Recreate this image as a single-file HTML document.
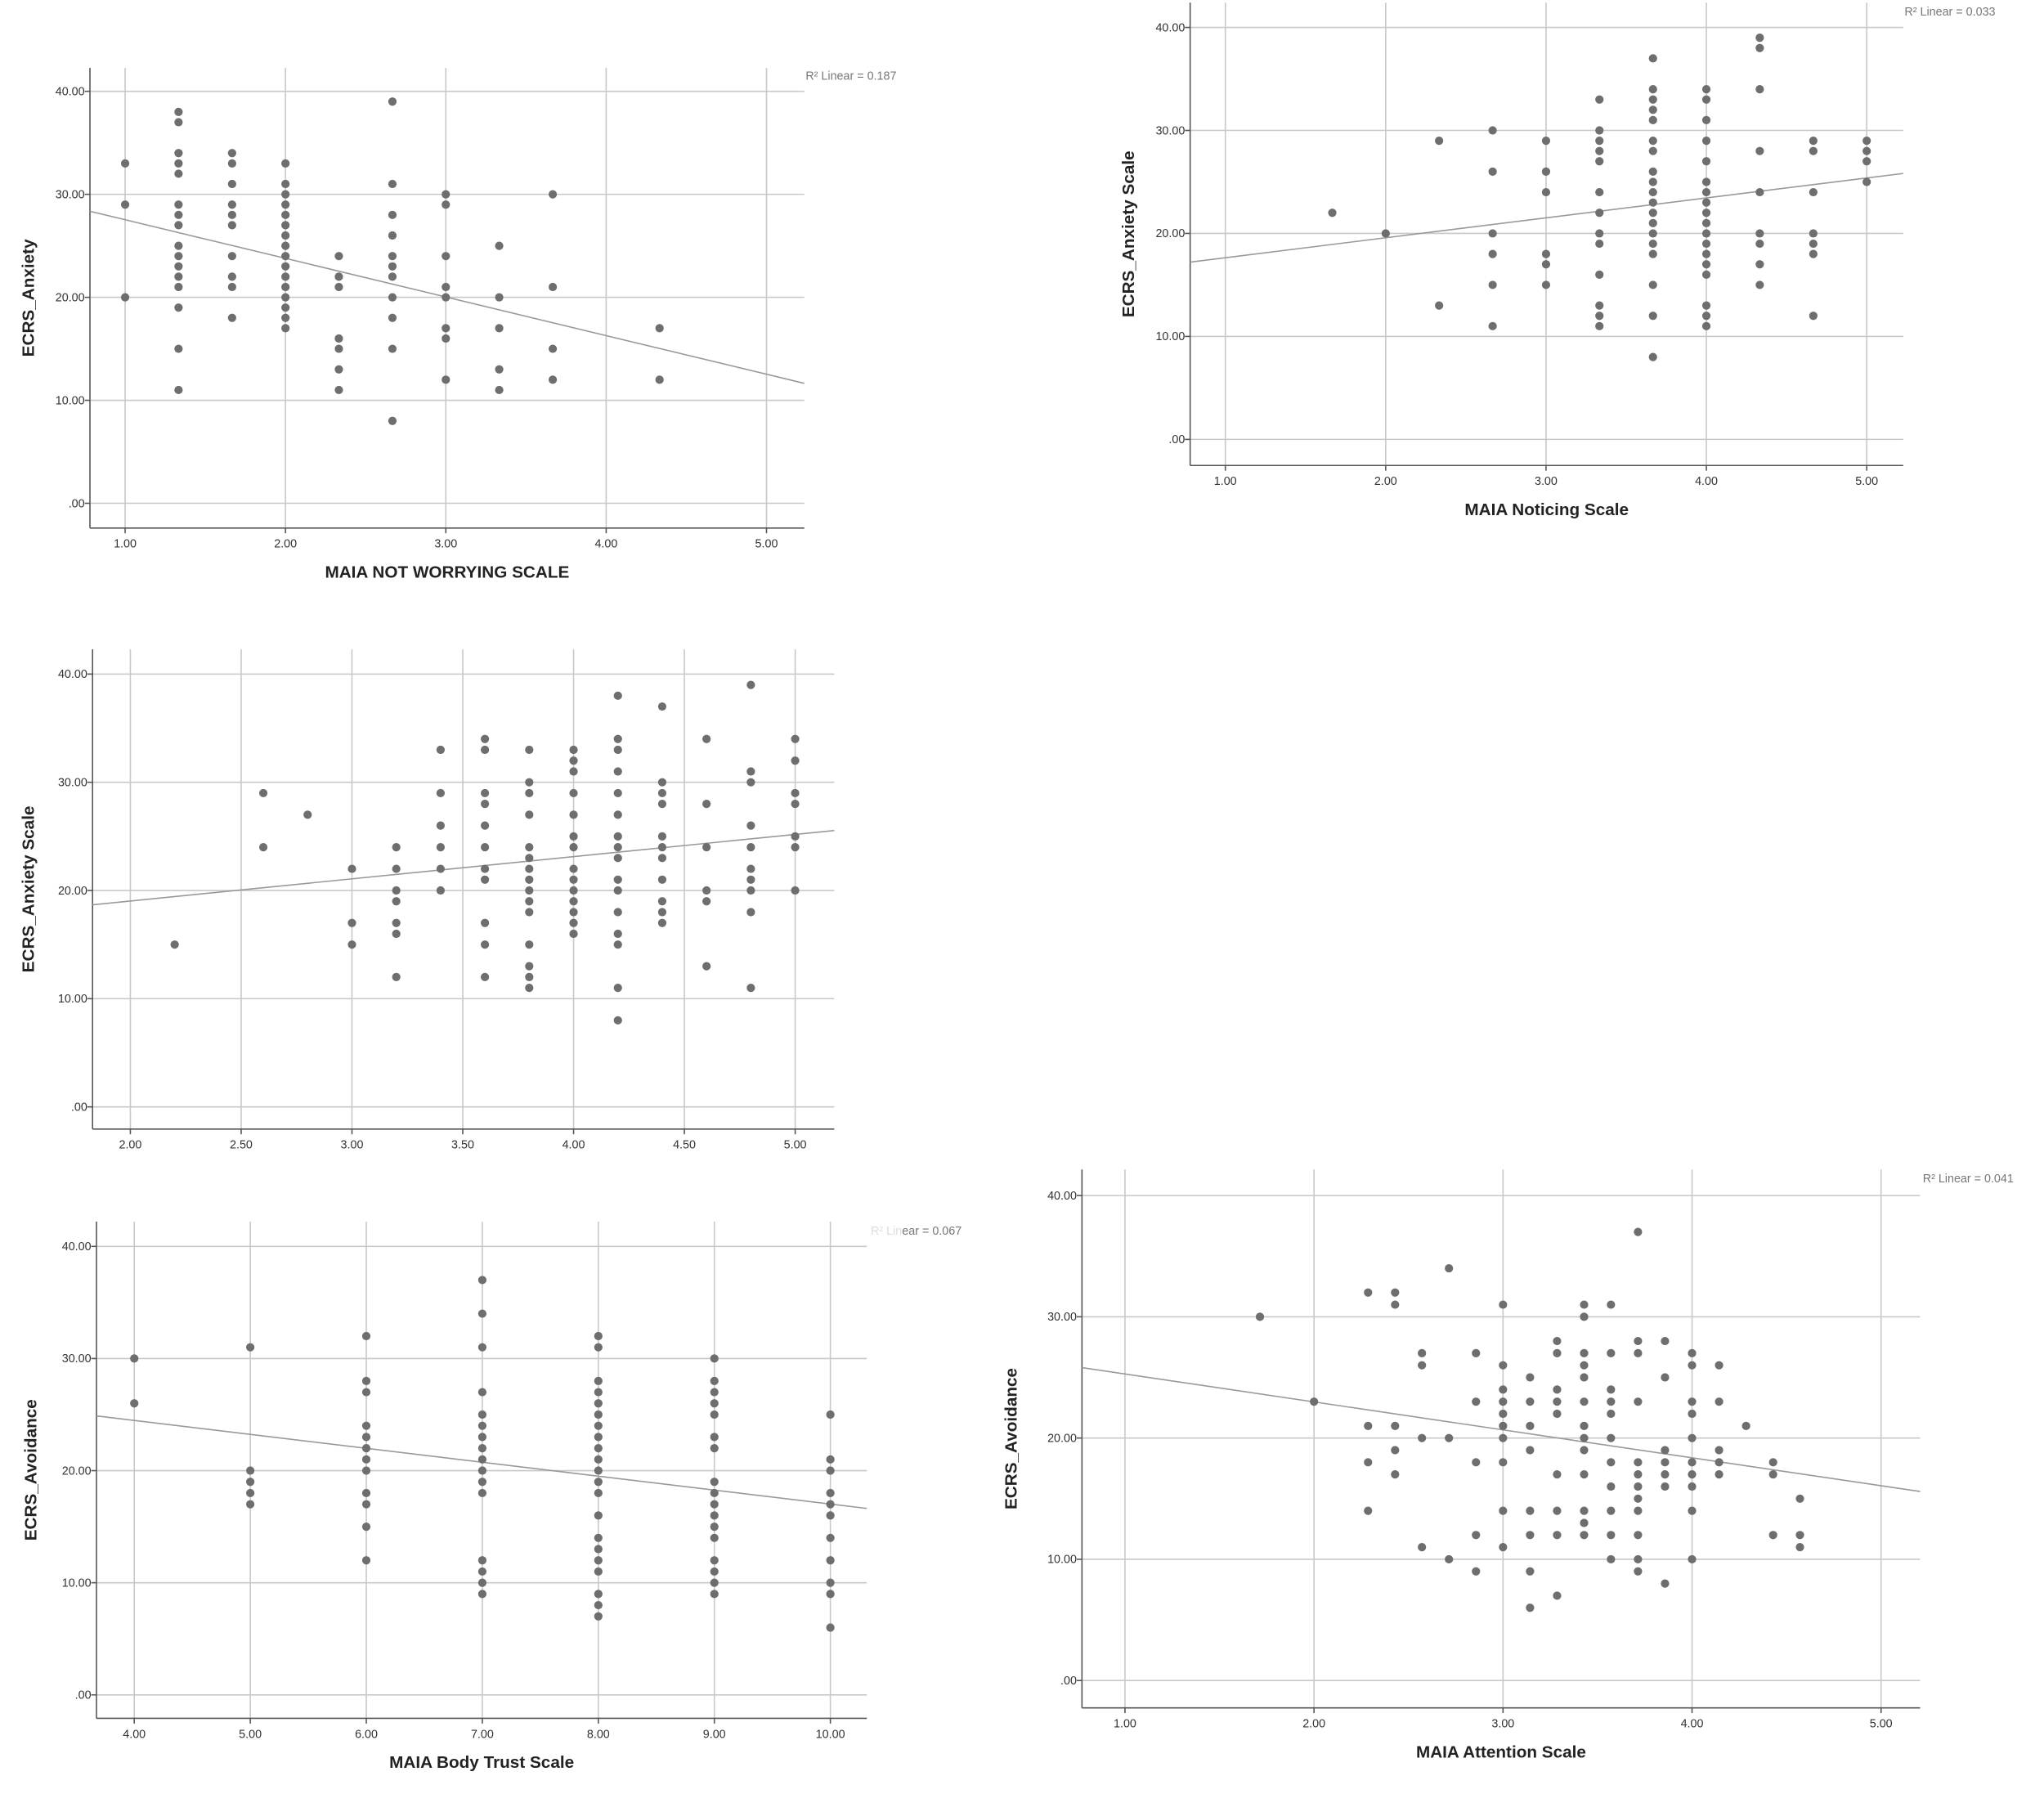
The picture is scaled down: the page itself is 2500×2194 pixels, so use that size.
<!DOCTYPE html>
<html><head><meta charset="utf-8"><style>
html,body{margin:0;padding:0;background:#fff;}
svg{display:block;font-family:"Liberation Sans",sans-serif;}
</style></head><body>
<svg id="s" width="2500" height="2194" viewBox="0 0 1568 1376" xmlns="http://www.w3.org/2000/svg"></svg>
<script>
const S=document.getElementById('s');let h='';
function chart(c){
  const {x0,x1,y0,y1,xt,yt,xlab,ylab,data,line,r2,ylx}=c;
  // y ticks: yt = [[val,px]...]
  const yv=v=>yt[0][1]+(v-yt[0][0])*(yt[1][1]-yt[0][1])/(yt[1][0]-yt[0][0]);
  const xv=v=>xt[0][1]+(v-xt[0][0])*(xt[1][1]-xt[0][1])/(xt[1][0]-xt[0][0]);
  h+=`<g stroke="#c8c8c8" stroke-width="1">`;
  c.yg.forEach(v=>{h+=`<line x1="${x0}" x2="${x1}" y1="${yv(v)}" y2="${yv(v)}"/>`});
  c.xg.forEach(v=>{h+=`<line y1="${y0}" y2="${y1}" x1="${xv(v)}" x2="${xv(v)}"/>`});
  h+=`</g><g stroke="#555" stroke-width="1"><line x1="${x0}" x2="${x0}" y1="${y0}" y2="${y1}"/><line x1="${x0}" x2="${x1}" y1="${y1}" y2="${y1}"/></g>`;
  c.yg.forEach(v=>{h+=`<line x1="${x0-4}" x2="${x0}" y1="${yv(v)}" y2="${yv(v)}" stroke="#555"/><text x="${x0-4}" y="${yv(v)+3}" font-size="9" text-anchor="end" fill="#333">${v==0?'.00':v.toFixed(2)}</text>`});
  c.xg.forEach(v=>{h+=`<line y1="${y1}" y2="${y1+4}" x1="${xv(v)}" x2="${xv(v)}" stroke="#555"/><text x="${xv(v)}" y="${y1+15}" font-size="9" text-anchor="middle" fill="#333">${v.toFixed(2)}</text>`});
  h+=`<line x1="${x0}" y1="${line[0]}" x2="${x1}" y2="${line[1]}" stroke="#999" stroke-width="1"/>`;
  for(const k in data){data[k].forEach(y=>{h+=`<circle cx="${xv(+k)}" cy="${yv(y)}" r="3.2" fill="#6e6e6e"/>`})}
  h+=`<text x="${(x0+x1)/2}" y="${y1+38}" font-size="13" font-weight="bold" text-anchor="middle" fill="#222">${xlab}</text>`;
  const cy=(y0+y1)/2;
  h+=`<text x="${ylx}" y="${cy}" font-size="13" font-weight="bold" text-anchor="middle" fill="#222" transform="rotate(-90 ${ylx} ${cy})">${ylab}</text>`;
  if(r2)h+=`<text x="${r2[0]}" y="${r2[1]}" font-size="9" fill="#777">${r2[2]}</text>`;
}
chart({x0:69,x1:617,y0:52,y1:405,xt:[[1,96],[2,219]],yt:[[40,70],[30,149]],yg:[0,10,20,30,40],xg:[1,2,3,4,5],
xlab:"MAIA NOT WORRYING SCALE",ylab:"ECRS_Anxiety",ylx:26,line:[162,294],r2:[618,61,"R² Linear = 0.187"],
data:{1:[33,29,20],1.333:[38,37,34,33,32,29,28,27,25,24,23,22,21,19,15,11],1.667:[34,33,31,29,28,27,24,22,21,18],2:[33,31,30,29,28,27,26,25,24,23,22,21,20,19,18,17],2.333:[24,22,21,16,15,13,11],2.667:[39,31,28,26,24,23,22,20,18,15,8],3:[30,29,24,21,20,17,16,12],3.333:[25,20,17,13,11],3.667:[30,21,15,12],4.333:[17,12]}});
chart({x0:913,x1:1460,y0:2,y1:357,xt:[[1,940],[2,1063]],yt:[[40,21],[30,100]],yg:[0,10,20,30,40],xg:[1,2,3,4,5],
xlab:"MAIA Noticing Scale",ylab:"ECRS_Anxiety Scale",ylx:870,line:[201,133],r2:[1461,12,"R² Linear = 0.033"],
data:{1.667:[22],2:[20],2.333:[29,13],2.667:[30,26,20,18,15,11],3:[29,26,24,18,17,15],3.333:[33,30,29,28,27,24,22,20,19,16,13,12,11],3.667:[37,34,33,32,31,29,28,26,25,24,23,22,21,20,19,18,15,12,8],4:[34,33,31,29,27,25,24,23,22,21,20,19,18,17,16,13,12,11],4.333:[39,38,34,28,24,20,19,17,15],4.667:[29,28,24,20,19,18,12],5:[29,28,27,25]}});
chart({x0:71,x1:640,y0:498,y1:866,xt:[[2,100],[3,270]],yt:[[40,517],[30,600]],yg:[0,10,20,30,40],xg:[2,2.5,3,3.5,4,4.5,5],
xlab:"",ylab:"ECRS_Anxiety Scale",ylx:26,line:[694,637],r2:null,
data:{2.2:[15],2.6:[29,24],2.8:[27],3:[22,17,15],3.2:[24,22,20,19,17,16,12],3.4:[33,29,26,24,22,20],3.6:[34,33,29,28,26,24,22,21,17,15,12],3.8:[33,30,29,27,24,23,22,21,20,19,18,15,13,12,11],4:[33,32,31,29,27,25,24,22,21,20,19,18,17,16],4.2:[38,34,33,31,29,27,25,24,23,21,20,18,16,15,11,8],4.4:[37,30,29,28,25,24,23,21,19,18,17],4.6:[34,28,24,20,19,13],4.8:[39,31,30,26,24,22,21,20,18,11],5:[34,32,29,28,25,24,20]}});
chart({x0:74,x1:665,y0:937,y1:1318,xt:[[4,103],[5,192]],yt:[[40,956],[30,1042]],yg:[0,10,20,30,40],xg:[4,5,6,7,8,9,10],
xlab:"MAIA Body Trust Scale",ylab:"ECRS_Avoidance",ylx:28,line:[1086,1157],r2:[668,947,"<tspan fill='#ddd'>R² Lin</tspan>ear = 0.067"],
data:{4:[30,26],5:[31,20,19,18,17],6:[32,28,27,24,23,22,21,20,18,17,15,12],7:[37,34,31,27,25,24,23,22,21,20,19,18,12,11,10,9],8:[32,31,28,27,26,25,24,23,22,21,20,19,18,16,14,13,12,11,9,8,7],9:[30,28,27,26,25,23,22,19,18,17,16,15,14,12,11,10,9],10:[25,21,20,18,17,16,14,12,10,9,6]}});
chart({x0:830,x1:1473,y0:897,y1:1310,xt:[[1,863],[2,1008]],yt:[[40,917],[30,1010]],yg:[0,10,20,30,40],xg:[1,2,3,4,5],
xlab:"MAIA Attention Scale",ylab:"ECRS_Avoidance",ylx:780,line:[1049,1144],r2:[1475,907,"R² Linear = 0.041"],
data:{1.714:[30],2:[23],2.286:[32,21,18,14],2.429:[32,31,21,19,17],2.571:[27,26,20,11],2.714:[34,20,10],2.857:[27,23,18,12,9],3:[31,26,24,23,22,21,20,18,14,11],3.143:[25,23,21,19,14,12,9,6],3.286:[28,27,24,23,22,17,14,12,7],3.429:[31,30,27,26,25,23,21,20,19,17,14,13,12],3.571:[31,27,24,23,22,20,18,16,14,12,10],3.714:[37,28,27,23,18,17,16,15,14,12,10,9],3.857:[28,25,19,18,17,16,8],4:[27,26,23,22,20,18,17,16,14,10],4.143:[26,23,19,18,17],4.286:[21],4.429:[18,17,12],4.571:[15,12,11]}});
S.innerHTML=h;
</script>
</body></html>
